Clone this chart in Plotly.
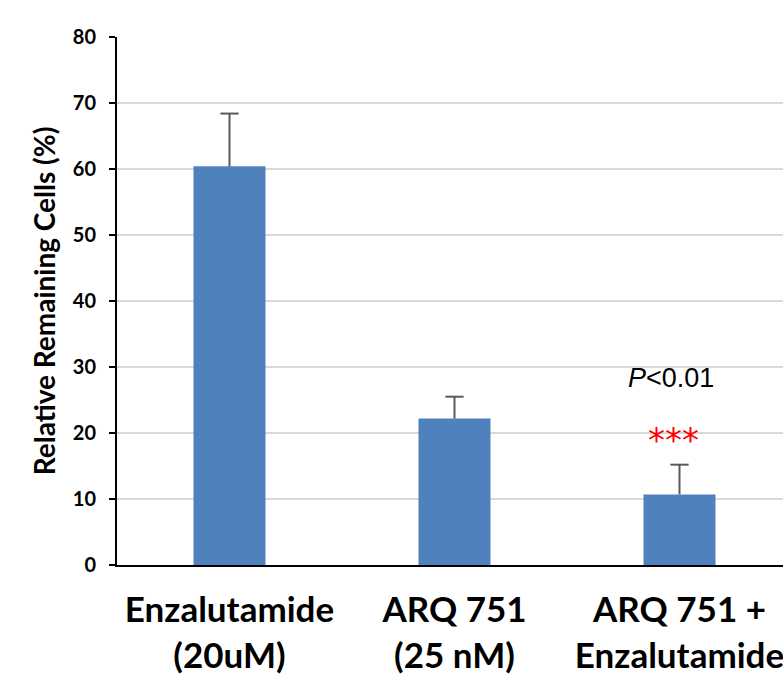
import plotly.graph_objects as go

categories = ["Enzalutamide<br>(20uM)", "ARQ 751<br>(25 nM)", "ARQ 751 +<br>Enzalutamide"]
values = [60.4, 22.2, 10.7]
errors = [8.0, 3.3, 4.5]
y_ticks = [0, 10, 20, 30, 40, 50, 60, 70, 80]
x_pos = [0, 1, 2]
err_top = [v + e for v, e in zip(values, errors)]

fig = go.Figure()
fig.add_trace(go.Bar(
    x=x_pos, y=values,
    width=0.32,
    marker=dict(color="#4f81bd", line=dict(width=0)),
    error_y=dict(type="data", array=errors, arrayminus=[0, 0, 0], symmetric=False,
                 color="#595959", thickness=2, width=0),
))
# error bar caps
fig.add_trace(go.Scatter(
    x=x_pos, y=err_top, mode="markers",
    marker=dict(symbol="line-ew", size=13, line=dict(width=2, color="#595959")),
    hoverinfo="skip",
))

fig.add_annotation(x=2, y=28.3, xref="x", yref="y", showarrow=False, xshift=-9,
                   text="<i>P</i><0.01", font=dict(family="Liberation Sans, Arial", size=27, color="black"))
fig.add_annotation(x=2, y=18.9, xref="x", yref="y", showarrow=False, xshift=-6,
                   text="***", font=dict(family="DejaVu Sans", size=34, color="red"))

fig.update_layout(
    width=783, height=674,
    margin=dict(l=117, r=0, t=37, b=109),
    plot_bgcolor="white", paper_bgcolor="white",
    showlegend=False,
    font=dict(family="Lato, Open Sans, sans-serif", color="black"),
)
fig.update_xaxes(
    tickmode="array", tickvals=x_pos, ticktext=categories,
    range=[-0.5, -0.5 + 666 / 225],
    showline=True, linecolor="black", linewidth=2,
    ticks="", showgrid=False, zeroline=False, automargin=False,
    ticklabelstandoff=13, ticklabeloverflow="allow",
    tickfont=dict(family="Lato, sans-serif", size=35, color="black", weight="bold"),
)
fig.update_yaxes(
    range=[0, 80], tickvals=y_ticks,
    showline=True, linecolor="black", linewidth=2,
    ticks="outside", ticklen=6, tickcolor="black", tickwidth=2,
    ticklabelstandoff=9,
    showgrid=True, gridcolor="#d9d9d9", gridwidth=2, zeroline=False, automargin=False,
    tickfont=dict(family="Lato, sans-serif", size=20, color="black", weight="bold"),
    title=dict(text="Relative Remaining Cells (%)", standoff=9,
               font=dict(family="Lato, sans-serif", size=28, color="black", weight="bold")),
)

fig.write_html("out.html",
               config={"displayModeBar": False},
               post_script="document.body.style.margin='0';document.body.style.overflow='hidden';")
